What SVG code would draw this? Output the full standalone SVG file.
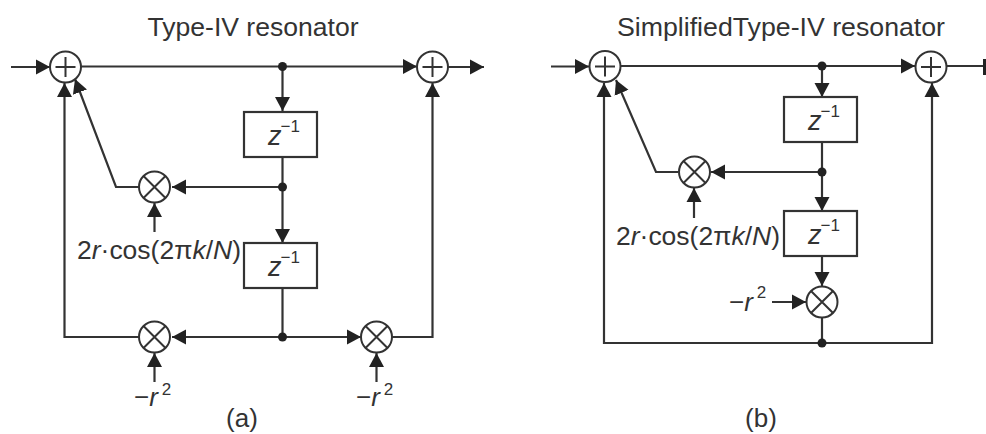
<svg xmlns="http://www.w3.org/2000/svg" width="986" height="434" viewBox="0 0 986 434">
<defs>
<marker id="a" markerUnits="userSpaceOnUse" markerWidth="15" markerHeight="16" refX="14" refY="8" orient="auto"><path d="M0 0.500L14 8L0 15.500Z" fill="#222"/></marker>
<g id="sum"><circle r="15.500" class="n"/><path d="M-10 0H10M0-10V10" class="s"/></g>
<g id="mul"><circle r="15.500" class="n"/><path d="M-11-11L11 11M-11 11L11-11" class="s"/></g>
</defs>
<style>
.n{fill:#fff;stroke:#333;stroke-width:2}
.s{fill:none;stroke:#333;stroke-width:2}
.c{fill:none;stroke:#333;stroke-width:2.200}
.r{fill:#fff;stroke:#333;stroke-width:2.200}
.d{fill:#222}
text{font-family:"Liberation Sans",Arial,sans-serif;fill:#333;font-size:26px}
.i{font-style:italic}
.z{font-size:27px;font-style:italic}
.u{font-size:17px;font-style:normal}
.k{font-size:17px}
</style>
<rect width="986" height="434" fill="#fff"/>
<text x="253" y="36" text-anchor="middle" textLength="211" lengthAdjust="spacingAndGlyphs">Type-IV resonator</text>
<text x="617" y="36" textLength="328" lengthAdjust="spacingAndGlyphs">SimplifiedType-IV resonator</text>
<g id="connectors">
<g class="c">
<path d="M11 67H50" marker-end="url(#a)"/>
<path d="M81 66.500H417" marker-end="url(#a)"/>
<path d="M448 67H484" marker-end="url(#a)"/>
<path d="M282.500 67V111" marker-end="url(#a)"/>
<path d="M282.500 157V243" marker-end="url(#a)"/>
<path d="M282.500 288V337"/>
<path d="M282.500 187H172" marker-end="url(#a)"/>
<path d="M139 187H116L75 79" marker-end="url(#a)"/>
<path d="M154.500 232V203" marker-end="url(#a)"/>
<path d="M282.500 337H172" marker-end="url(#a)"/>
<path d="M282.500 337H361" marker-end="url(#a)"/>
<path d="M139 337H64.500V83" marker-end="url(#a)"/>
<path d="M392 337H432.500V83" marker-end="url(#a)"/>
<path d="M154.500 382V353" marker-end="url(#a)"/>
<path d="M376.500 382V353" marker-end="url(#a)"/>
<path d="M551 66.500H589" marker-end="url(#a)"/>
<path d="M621 66H915" marker-end="url(#a)"/>
<path d="M947 66H986"/>
<path d="M822 66V97" marker-end="url(#a)"/>
<path d="M822 142V211" marker-end="url(#a)"/>
<path d="M822 172H711" marker-end="url(#a)"/>
<path d="M678 172H656L616 80" marker-end="url(#a)"/>
<path d="M694 218V188" marker-end="url(#a)"/>
<path d="M822 256V286" marker-end="url(#a)"/>
<path d="M772 302H806" marker-end="url(#a)"/>
<path d="M822 318V343"/>
<path d="M822 343H604V83" marker-end="url(#a)"/>
<path d="M822 343H932V83" marker-end="url(#a)"/>
</g>
<path d="M983 59V75H986V59Z" class="d"/>
<circle class="d" cx="282.500" cy="66.500" r="4.500"/>
<circle class="d" cx="282.500" cy="187" r="4.500"/>
<circle class="d" cx="282.500" cy="337" r="4.500"/>
<circle class="d" cx="822" cy="66" r="4.500"/>
<circle class="d" cx="822" cy="172" r="4.500"/>
<circle class="d" cx="822" cy="343" r="4.500"/>
</g>
<g id="a-sum1"><use href="#sum" x="65.500" y="67"/></g>
<g id="a-sum2"><use href="#sum" x="432.500" y="67"/></g>
<g id="a-mul1"><use href="#mul" x="154.500" y="187"/></g>
<g id="a-mul2"><use href="#mul" x="154.500" y="337"/></g>
<g id="a-mul3"><use href="#mul" x="376.500" y="337"/></g>
<g id="a-z1"><rect class="r" x="244" y="112" width="73" height="45"/><text x="268" y="145" class="z">z<tspan class="u" dx="-1" dy="-13">−1</tspan></text></g>
<g id="a-z2"><rect class="r" x="244" y="243" width="73" height="45"/><text x="268" y="276" class="z">z<tspan class="u" dx="-1" dy="-13">−1</tspan></text></g>
<g id="a-coef"><text x="77" y="259" textLength="164" lengthAdjust="spacingAndGlyphs">2<tspan class="i">r</tspan>·cos(2π<tspan class="i">k</tspan>/<tspan class="i">N</tspan>)</text></g>
<g id="a-r1"><text x="134" y="406">−<tspan class="i">r</tspan><tspan class="k" dx="4" dy="-11">2</tspan></text></g>
<g id="a-r2"><text x="356" y="406">−<tspan class="i">r</tspan><tspan class="k" dx="4" dy="-11">2</tspan></text></g>
<g id="a-label"><text x="242" y="427" text-anchor="middle">(a)</text></g>
<g id="b-sum1"><use href="#sum" x="605" y="66.500"/></g>
<g id="b-sum2"><use href="#sum" x="931" y="67"/></g>
<g id="b-mul1"><use href="#mul" x="694.500" y="172"/></g>
<g id="b-mul2"><use href="#mul" x="822" y="302"/></g>
<g id="b-z1"><rect class="r" x="784" y="97" width="73" height="45"/><text x="808" y="130" class="z">z<tspan class="u" dx="-1" dy="-13">−1</tspan></text></g>
<g id="b-z2"><rect class="r" x="784" y="211" width="73" height="45"/><text x="808" y="244" class="z">z<tspan class="u" dx="-1" dy="-13">−1</tspan></text></g>
<g id="b-coef"><text x="616" y="245" textLength="164" lengthAdjust="spacingAndGlyphs">2<tspan class="i">r</tspan>·cos(2π<tspan class="i">k</tspan>/<tspan class="i">N</tspan>)</text></g>
<g id="b-r"><text x="729" y="311">−<tspan class="i">r</tspan><tspan class="k" dx="4" dy="-13">2</tspan></text></g>
<g id="b-label"><text x="761" y="427" text-anchor="middle">(b)</text></g>
</svg>
